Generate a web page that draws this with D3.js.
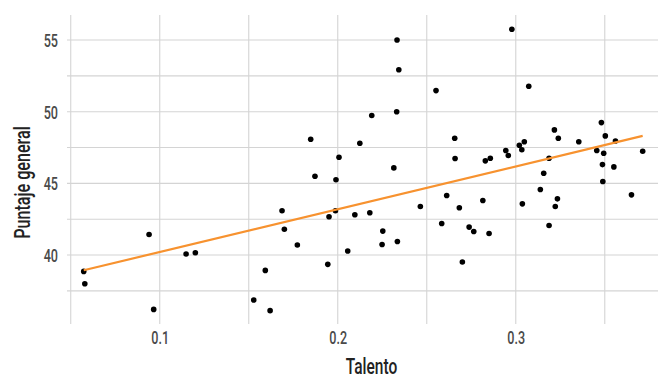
<!DOCTYPE html>
<html>
<head>
<meta charset="utf-8">
<script src="https://cdn.jsdelivr.net/npm/d3@7"></script>
<style>
  html, body { margin: 0; padding: 0; background: #ffffff; }
  svg { display: block; }
  text { font-family: "Roboto", "Liberation Sans", sans-serif; font-weight: 500; }
</style>
</head>
<body>
<div id="chart"></div>
<script>
// ---- data ----
const talento = [
  0.0573, 0.0579, 0.0940, 0.0966, 0.1148, 0.1200, 0.1528, 0.1593, 0.1620, 0.1687,
  0.1700, 0.1773, 0.1848, 0.1872, 0.1944, 0.1951, 0.1987, 0.1990, 0.2007, 0.2056,
  0.2096, 0.2124, 0.2180, 0.2191, 0.2249, 0.2253, 0.2315, 0.2331, 0.2333, 0.2335,
  0.2343, 0.2464, 0.2552, 0.2584, 0.2612, 0.2657, 0.2659, 0.2683, 0.2700, 0.2738,
  0.2764, 0.2815, 0.2829, 0.2850, 0.2857, 0.2944, 0.2958, 0.2978, 0.3020, 0.3034,
  0.3037, 0.3048, 0.3073, 0.3138, 0.3157, 0.3187, 0.3187, 0.3217, 0.3222, 0.3234,
  0.3239, 0.3354, 0.3455, 0.3481, 0.3487, 0.3489, 0.3494, 0.3503, 0.3551, 0.3560,
  0.3650, 0.3713
];
const puntaje = [
  38.86, 38.00, 41.43, 36.21, 40.07, 40.16, 36.86, 38.93, 36.12, 43.09,
  41.80, 40.70, 48.08, 45.50, 39.35, 42.67, 43.09, 45.25, 46.82, 40.28,
  42.81, 47.80, 42.95, 49.73, 40.74, 41.67, 46.08, 50.00, 55.00, 40.95,
  52.93, 43.39, 51.47, 42.20, 44.15, 48.15, 46.73, 43.30, 39.51, 41.95,
  41.64, 43.80, 46.57, 41.50, 46.75, 47.29, 46.94, 55.75, 47.66, 47.34,
  43.57, 47.90, 51.78, 44.57, 45.71, 46.75, 42.06, 48.73, 43.39, 43.92,
  48.15, 47.90, 47.29, 49.24, 46.31, 45.13, 47.10, 48.31, 46.15, 47.96,
  44.20, 47.24
];
const xMajorTicks = [0.1, 0.2, 0.3];
const xMinorTicks = [0.05, 0.15, 0.25, 0.35];
const yMajorTicks = [40, 45, 50, 55];
const yMinorTicks = [37.5, 42.5, 47.5, 52.5];
const xLabel = "Talento";
const yLabel = "Puntaje general";

// ---- layout ----
const W = 658, H = 378;
const panel = { left: 67, right: 658, top: 15, bottom: 324 };
const condense = 0.72;   // horizontal squeeze to mimic the condensed face

const data = talento.map((t, i) => ({ x: t, y: puntaje[i] }));

const x = d3.scaleLinear().domain([0.0479, 0.3799]).range([panel.left, panel.right]);
const y = d3.scaleLinear().domain([35.19, 56.745]).range([panel.bottom, panel.top]);

const svg = d3.select("#chart").append("svg")
  .attr("width", W).attr("height", H);

const grid = svg.append("g");
const gridColor = "#d4d4d4";

// vertical grid lines
grid.selectAll("line.vx")
  .data(xMinorTicks.concat(xMajorTicks))
  .enter().append("line")
  .attr("x1", d => x(d)).attr("x2", d => x(d))
  .attr("y1", panel.top).attr("y2", panel.bottom)
  .attr("stroke", gridColor).attr("stroke-width", 1.1);

// horizontal grid lines
grid.selectAll("line.hy")
  .data(yMinorTicks.concat(yMajorTicks))
  .enter().append("line")
  .attr("x1", panel.left).attr("x2", panel.right)
  .attr("y1", d => y(d)).attr("y2", d => y(d))
  .attr("stroke", gridColor).attr("stroke-width", 1.1);

// tick labels via d3 axes (lines hidden)
const xAxis = d3.axisBottom(x).tickValues(xMajorTicks).tickSize(0).tickPadding(0)
  .tickFormat(d3.format(".1f"));
const gx = svg.append("g").attr("transform", `translate(0,${343.5})`).call(xAxis);
gx.select(".domain").remove();
gx.selectAll("text")
  .attr("y", 0).attr("dy", 0)
  .attr("fill", "#4a4a4a")
  .attr("font-size", 17.5)
  .attr("transform", `scale(${condense},1)`)
  .style("font-family", '"Roboto", "Liberation Sans", sans-serif');

const yAxis = d3.axisLeft(y).tickValues(yMajorTicks).tickSize(0).tickPadding(0)
  .tickFormat(d3.format("d"));
const gy = svg.append("g").attr("transform", `translate(${58},0)`).call(yAxis);
gy.select(".domain").remove();
gy.selectAll("text")
  .attr("x", 0).attr("dy", "0.36em")
  .attr("fill", "#4a4a4a")
  .attr("font-size", 17.5)
  .attr("transform", `scale(${condense},1)`)
  .style("font-family", '"Roboto", "Liberation Sans", sans-serif');

// regression line (least squares on the data)
const mx = d3.mean(data, d => d.x), my = d3.mean(data, d => d.y);
const sxy = d3.sum(data, d => (d.x - mx) * (d.y - my));
const sxx = d3.sum(data, d => (d.x - mx) * (d.x - mx));
const slope = sxy / sxx, intercept = my - slope * mx;
const xExt = d3.extent(data, d => d.x);
const fit = xExt.map(v => ({ x: v, y: intercept + slope * v }));

// points
svg.append("g").selectAll("circle")
  .data(data).enter().append("circle")
  .attr("cx", d => x(d.x)).attr("cy", d => y(d.y))
  .attr("r", 2.8).attr("fill", "#000000");

svg.append("path")
  .datum(fit)
  .attr("d", d3.line().x(d => x(d.x)).y(d => y(d.y)))
  .attr("fill", "none")
  .attr("stroke", "#f7922f")
  .attr("stroke-width", 2.2);

// axis titles
svg.append("g")
  .attr("transform", `translate(371.5,373.5)`)
  .append("text")
  .attr("transform", `scale(${condense},1)`)
  .attr("text-anchor", "middle")
  .attr("font-size", 21.5)
  .attr("fill", "#222222")
  .text(xLabel);

svg.append("g")
  .attr("transform", `translate(30,182.5) rotate(-90)`)
  .append("text")
  .attr("transform", `scale(${condense + 0.03},1)`)
  .attr("text-anchor", "middle")
  .attr("font-size", 21.5)
  .attr("fill", "#222222")
  .text(yLabel);
</script>
</body>
</html>
